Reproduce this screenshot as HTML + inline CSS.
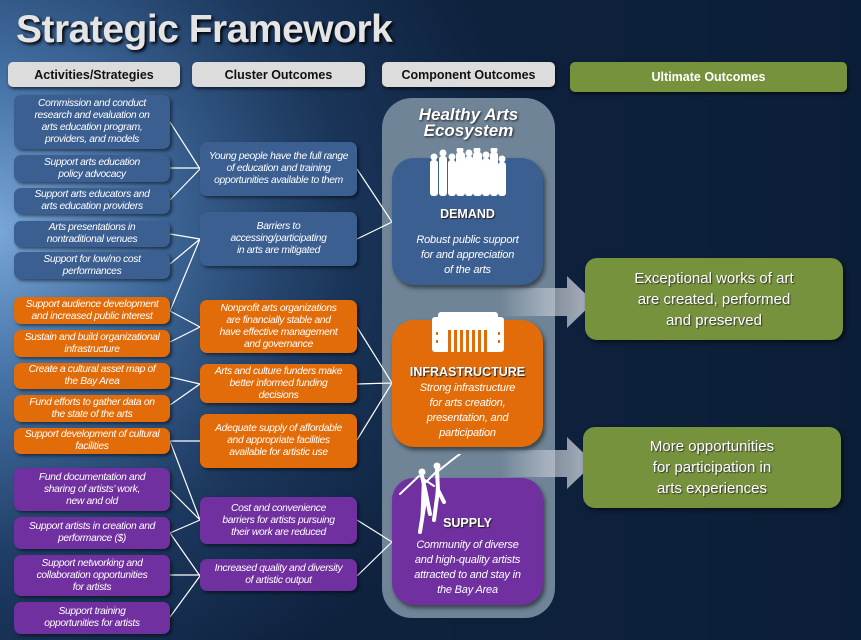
<!DOCTYPE html>
<html><head><meta charset="utf-8"><style>
*{margin:0;padding:0;box-sizing:border-box}
body{width:861px;height:640px;overflow:hidden;position:relative;font-family:"Liberation Sans",sans-serif;
background:radial-gradient(ellipse 540px 500px at 0px 230px,#78a6d8 0%,#4572a6 30%,#1f3d66 65%,#0f2340 100%),#0f2340;}
.bg2{position:absolute;inset:0;background:linear-gradient(90deg,rgba(15,35,64,0) 0%,rgba(12,30,55,0.5) 70%,rgba(10,28,52,0.75) 100%)}
.t{position:absolute;left:16px;top:8px;font-size:39px;font-weight:bold;color:#e4e4e4;text-shadow:2px 2px 3px #000;letter-spacing:-0.5px}
.h{position:absolute;height:25px;background:#dcdcdc;border-radius:5px;font-weight:bold;font-size:12.5px;color:#111;display:flex;align-items:center;justify-content:center;box-shadow:1px 2px 3px rgba(0,0,0,.6)}
.b{position:absolute;border-radius:7px;color:#fff;font-style:italic;font-size:10.3px;line-height:12px;display:flex;align-items:center;justify-content:center;text-align:center;box-shadow:2px 2px 3px rgba(0,0,0,.5);letter-spacing:-0.35px;white-space:nowrap}
.bl{background:#3c5f92}.or{background:#e36c0a}.pu{background:#7030a0}
.l{left:14px;width:156px}.m{left:200px;width:157px}
.g{position:absolute;background:#76923c;border-radius:12px;color:#fff;font-size:15px;line-height:21px;text-align:center;display:flex;align-items:center;justify-content:center;box-shadow:2px 2px 4px rgba(0,0,0,.6);text-shadow:1px 1px 1px #333}
.c{position:absolute;left:392px;width:151px;border-radius:22px;color:#fff;text-align:center;box-shadow:2px 3px 4px rgba(0,0,0,.5)}
.c .n{font-weight:bold;font-size:12.5px;position:absolute;left:0;right:0;text-shadow:1px 1px 1px #222}
.c .d{font-style:italic;font-size:11px;line-height:15px;position:absolute;left:0;right:0;letter-spacing:-0.2px}
</style></head><body>
<div class="bg2"></div>
<div class="t">Strategic Framework</div>
<div class="h" style="left:8px;top:62px;width:172px">Activities/Strategies</div>
<div class="h" style="left:192px;top:62px;width:173px">Cluster Outcomes</div>
<div class="h" style="left:382px;top:62px;width:173px">Component Outcomes</div>
<div class="h" style="left:570px;top:62px;width:277px;height:30px;background:#76923c;color:#fff">Ultimate Outcomes</div>

<div style="position:absolute;left:382px;top:98px;width:173px;height:520px;background:#6f8497;border-radius:30px"></div>
<div style="position:absolute;left:382px;top:107px;width:173px;text-align:center;color:#fff;font-weight:bold;font-style:italic;font-size:17px;line-height:16px;text-shadow:1px 1px 2px #222">Healthy Arts<br>Ecosystem</div>

<svg style="position:absolute;left:0;top:0" width="861" height="640">
<defs><linearGradient id="ar" x1="0" x2="1"><stop offset="0" stop-color="#c8ced6" stop-opacity="0"/><stop offset="0.5" stop-color="#c8ced6" stop-opacity=".6"/><stop offset="1" stop-color="#c8ced6" stop-opacity=".85"/></linearGradient></defs>
<path d="M500 288H567V276L594 302L567 328V316H500Z" fill="url(#ar)"/>
<path d="M500 450H567V437L594 463L567 489V477H500Z" fill="url(#ar)"/>
<g stroke="#fff" stroke-width="1.2" fill="none">
<path d="M170 122L200 169M170 168H200M170 200L200 169"/>
<path d="M170 234L200 239M170 264L200 239M170 311L200 239M170 311L200 327M170 342L200 327"/>
<path d="M170 377L200 384M170 405L200 384M170 441H200M170 441L200 520M170 490L200 520M170 533L200 520M170 533L200 576M170 575H200M170 617L200 576"/>
<path d="M357 169L392 222L357 239M357 327L392 383L357 384M357 440L392 383M357 520L392 542L357 576"/>
</g></svg>

<div class="b bl l" style="top:95px;height:54px">Commission and conduct<br>research and evaluation on<br>arts education program,<br>providers, and models</div>
<div class="b bl l" style="top:155px;height:27px">Support arts education<br>policy advocacy</div>
<div class="b bl l" style="top:188px;height:26px">Support arts educators and<br>arts education providers</div>
<div class="b bl l" style="top:221px;height:26px">Arts presentations in<br>nontraditional venues</div>
<div class="b bl l" style="top:252px;height:27px">Support for low/no cost<br>performances</div>
<div class="b or l" style="top:297px;height:27px">Support audience development<br>and increased public interest</div>
<div class="b or l" style="top:330px;height:27px">Sustain and build organizational<br>infrastructure</div>
<div class="b or l" style="top:363px;height:26px">Create a cultural asset map of<br>the Bay Area</div>
<div class="b or l" style="top:395px;height:27px">Fund efforts to gather data on<br>the state of the arts</div>
<div class="b or l" style="top:428px;height:26px">Support development of cultural<br>facilities</div>
<div class="b pu l" style="top:468px;height:43px">Fund documentation and<br>sharing of artists’ work,<br>new and old</div>
<div class="b pu l" style="top:517px;height:32px">Support artists in creation and<br>performance ($)</div>
<div class="b pu l" style="top:555px;height:41px">Support networking and<br>collaboration opportunities<br>for artists</div>
<div class="b pu l" style="top:602px;height:32px">Support training<br>opportunities for artists</div>

<div class="b bl m" style="top:142px;height:54px">Young people have the full range<br>of education and training<br>opportunities available to them</div>
<div class="b bl m" style="top:212px;height:54px">Barriers to<br>accessing/participating<br>in arts are mitigated</div>
<div class="b or m" style="top:300px;height:53px">Nonprofit arts organizations<br>are financially stable and<br>have effective management<br>and governance</div>
<div class="b or m" style="top:364px;height:39px">Arts and culture funders make<br>better informed funding<br>decisions</div>
<div class="b or m" style="top:414px;height:54px">Adequate supply of affordable<br>and appropriate facilities<br>available for artistic use</div>
<div class="b pu m" style="top:497px;height:47px">Cost and convenience<br>barriers for artists pursuing<br>their work are reduced</div>
<div class="b pu m" style="top:559px;height:32px">Increased quality and diversity<br>of artistic output</div>

<div class="c bl" style="top:158px;height:127px;background:#3c5f92">
<svg style="position:absolute;left:38px;top:-10px" width="78" height="50"><g fill="#fff">
<rect x="0" y="12" width="8" height="36" rx="3"/><rect x="9" y="8" width="8" height="40" rx="3"/><rect x="18" y="12" width="8" height="36" rx="3"/><rect x="26" y="4" width="9" height="44" rx="3"/><rect x="35" y="8" width="8" height="40" rx="3"/><rect x="43" y="4" width="9" height="44" rx="3"/><rect x="52" y="10" width="8" height="38" rx="3"/><rect x="60" y="4" width="8" height="44" rx="3"/><rect x="68" y="14" width="8" height="34" rx="3"/>
<circle cx="4" cy="9" r="3.5"/><circle cx="13" cy="5" r="3.5"/><circle cx="22" cy="9" r="3.5"/><circle cx="30" cy="2" r="3.5"/><circle cx="39" cy="5" r="3.5"/><circle cx="47" cy="2" r="3.5"/><circle cx="56" cy="7" r="3.5"/><circle cx="64" cy="2" r="3.5"/><circle cx="72" cy="11" r="3.5"/></g></svg>
<div class="n" style="top:49px">DEMAND</div>
<div class="d" style="top:75px">Robust public support<br>for and appreciation<br>of the arts</div></div>

<div class="c" style="top:320px;height:127px;background:#e36c0a">
<svg style="position:absolute;left:38px;top:-8px" width="76" height="40"><g fill="#fff"><rect x="8" y="0" width="60" height="7" rx="3"/><rect x="2" y="5" width="72" height="35" rx="3"/></g><g fill="#e36c0a"><rect x="18" y="18" width="3" height="22"/><rect x="24" y="18" width="3" height="22"/><rect x="30" y="18" width="3" height="22"/><rect x="36" y="18" width="3" height="22"/><rect x="42" y="18" width="3" height="22"/><rect x="48" y="18" width="3" height="22"/><rect x="54" y="18" width="3" height="22"/><rect x="6" y="20" width="2" height="3"/><rect x="6" y="28" width="2" height="3"/><rect x="68" y="20" width="2" height="3"/><rect x="68" y="28" width="2" height="3"/></g></svg>
<div class="n" style="top:45px">INFRASTRUCTURE</div>
<div class="d" style="top:61px">Strong infrastructure<br>for arts creation,<br>presentation, and<br>participation</div></div>

<div class="c" style="top:478px;height:127px;background:#7030a0">
<svg style="position:absolute;left:0;top:-24px" width="80" height="82"><g fill="#fff" stroke="#fff" stroke-linecap="round">
<circle cx="30" cy="18" r="3"/><path d="M30 22L34 40L28 78M34 40L38 60" stroke-width="4"/><path d="M27 22L8 40M30 24L42 32" stroke-width="2"/>
<circle cx="45" cy="12" r="3"/><path d="M45 16L46 36L42 66M46 36L52 48" stroke-width="4"/><path d="M45 18L60 6L68 0M44 18L34 28" stroke-width="2"/></g></svg>
<div class="n" style="top:38px">SUPPLY</div>
<div class="d" style="top:60px">Community of diverse<br>and high-quality artists<br>attracted to and stay in<br>the Bay Area</div></div>

<div class="g" style="left:585px;top:258px;width:258px;height:82px">Exceptional works of art<br>are created, performed<br>and preserved</div>
<div class="g" style="left:583px;top:427px;width:258px;height:81px">More opportunities<br>for participation in<br>arts experiences</div>
</body></html>
